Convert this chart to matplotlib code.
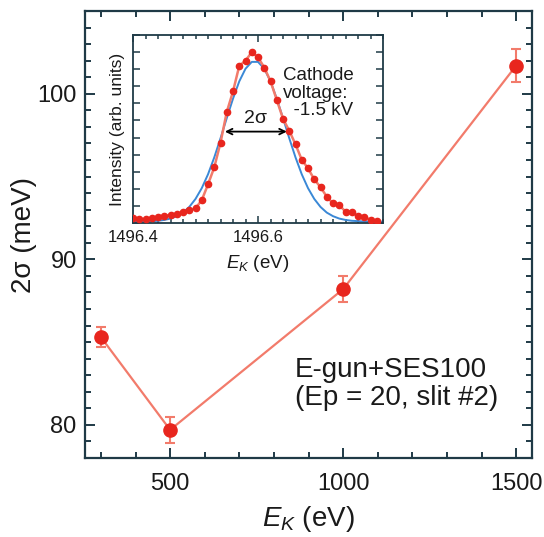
import matplotlib
matplotlib.use('Agg')
import matplotlib.pyplot as plt
from matplotlib.ticker import MultipleLocator, NullFormatter

plt.rcParams['font.family'] = ['Liberation Sans', 'DejaVu Sans']
plt.rcParams['mathtext.fontset'] = 'custom'
plt.rcParams['mathtext.rm'] = 'Liberation Sans'
plt.rcParams['mathtext.it'] = 'Liberation Sans:italic'

# main data: width vs kinetic energy
ek = [300, 500, 1000, 1500]
width = [85.3, 79.7, 88.2, 101.7]
width_err = [0.6, 0.8, 0.8, 1.0]

# inset: measured spectrum (red dots) and gaussian fit (blue)
spec_e = [1496.40, 1496.41, 1496.42, 1496.43, 1496.44, 1496.45, 1496.46, 1496.47,
          1496.48, 1496.49, 1496.50, 1496.51, 1496.52, 1496.53, 1496.54, 1496.55,
          1496.56, 1496.57, 1496.58, 1496.59, 1496.60, 1496.61, 1496.62, 1496.63,
          1496.64, 1496.65, 1496.66, 1496.67, 1496.68, 1496.69, 1496.70, 1496.71,
          1496.72, 1496.73, 1496.74, 1496.75, 1496.76, 1496.77, 1496.78, 1496.79]
spec_i = [0.027, 0.025, 0.022, 0.030, 0.037, 0.041, 0.047, 0.055,
          0.062, 0.076, 0.086, 0.134, 0.226, 0.326, 0.47, 0.65,
          0.77, 0.92, 0.95, 1.0, 0.97, 0.91, 0.83, 0.72,
          0.61, 0.54, 0.46, 0.37, 0.32, 0.255, 0.21, 0.154,
          0.115, 0.105, 0.066, 0.062, 0.041, 0.037, 0.018, 0.013]
fit_e = spec_e + [1496.80]
fit_i = [0.008, 0.009, 0.009, 0.011, 0.013, 0.018, 0.026, 0.040,
         0.061, 0.094, 0.141, 0.204, 0.285, 0.384, 0.496, 0.614,
         0.728, 0.829, 0.903, 0.943, 0.943, 0.903, 0.829, 0.728,
         0.614, 0.496, 0.384, 0.285, 0.204, 0.141, 0.094, 0.061,
         0.040, 0.026, 0.018, 0.013, 0.011, 0.009, 0.009, 0.008, 0.008]

axcol = '#1f3a46'
red = '#e8261e'
salmon = '#f27b6b'
blue = '#3a88d6'

fig = plt.figure(figsize=(5.44, 5.37), dpi=100)
ax = fig.add_axes([0.1563, 0.1471, 0.8217, 0.8324])

ax.plot(ek, width, color=salmon, lw=1.6, zorder=2)
ax.errorbar(ek, width, yerr=width_err, fmt='o', color=red, ms=9.5,
            ecolor=salmon, elinewidth=1.5, capsize=3.8, capthick=1.5, zorder=3)

ax.set_xlim(254, 1546)
ax.set_ylim(78, 105)
ax.xaxis.set_major_locator(MultipleLocator(500))
ax.xaxis.set_minor_locator(MultipleLocator(100))
ax.yaxis.set_major_locator(MultipleLocator(10))
ax.yaxis.set_minor_locator(MultipleLocator(1))
ax.tick_params(which='both', direction='in', top=True, right=True, color=axcol, width=1.4)
ax.tick_params(which='major', length=7, labelsize=17, labelcolor='#1a1a1a', pad=6)
ax.tick_params(axis='x', which='major', pad=11)
ax.tick_params(which='minor', length=4)
for s in ax.spines.values():
    s.set_color(axcol)
    s.set_linewidth(1.6)

ax.set_xlabel(r'$E_K$ (eV)', fontsize=20, color='#1a1a1a', labelpad=6)
ax.set_ylabel('2σ (meV)', fontsize=20, color='#1a1a1a', labelpad=0)

ax.text(0.47, 0.1655, 'E-gun+SES100\n(Ep = 20, slit #2)', transform=ax.transAxes,
        fontsize=20, color='#1a1a1a', ha='left', va='center', linespacing=1.1)

# inset
ins = fig.add_axes([0.2445, 0.5847, 0.4596, 0.350])
ins.plot(fit_e, fit_i, color=blue, lw=1.4, zorder=2)
ins.plot(spec_e, spec_i, color=salmon, lw=1.8, marker='o', ms=4.5,
         mfc=red, mec=red, zorder=3)
ins.set_xlim(1496.4, 1496.8)
ins.set_ylim(0.0, 1.1)
ins.set_xticks([1496.4, 1496.6])
ins.set_xticklabels(['1496.4', '1496.6'])
ins.xaxis.set_minor_locator(MultipleLocator(0.02))
ins.yaxis.set_major_locator(MultipleLocator(0.1))
ins.yaxis.set_major_formatter(NullFormatter())
ins.tick_params(which='both', direction='in', top=True, right=True, color=axcol, width=1.1)
ins.tick_params(which='major', length=5, labelsize=12, labelcolor='#1a1a1a', pad=5)
ins.tick_params(which='minor', length=3)
for s in ins.spines.values():
    s.set_color(axcol)
    s.set_linewidth(1.3)
ins.set_xlabel(r'$E_K$ (eV)', fontsize=13.5, color='#1a1a1a', labelpad=6)
ins.set_ylabel('Intensity (arb. units)', fontsize=12.5, color='#1a1a1a', labelpad=1)

ins.annotate('', xy=(1496.547, 0.535), xytext=(1496.646, 0.535),
             arrowprops=dict(arrowstyle='<->', color='black', lw=1.3,
                             shrinkA=0, shrinkB=0, mutation_scale=10))
ins.text(1496.596, 0.56, '2σ', fontsize=14, color='#1a1a1a', ha='center', va='bottom')
ins.text(1496.64, 0.76, 'Cathode\nvoltage:\n  -1.5 kV', fontsize=13.5, color='#1a1a1a',
         ha='left', va='center', linespacing=1.05)

fig.savefig('out.png', dpi=100, facecolor='white')
